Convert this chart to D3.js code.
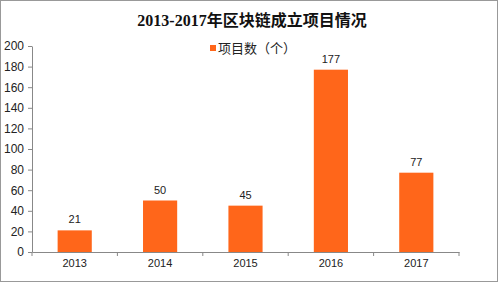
<!DOCTYPE html>
<html lang="zh">
<head>
<meta charset="UTF-8">
<script src="https://cdnjs.cloudflare.com/ajax/libs/d3/7.8.5/d3.min.js"></script>
<style>
  body { margin: 0; padding: 0; background: #fff; }
  svg { display: block; }
</style>
</head>
<body>
<div id="chart"></div>
<script>
// 数据
const years = ["2013", "2014", "2015", "2016", "2017"];
const projects = [21, 50, 45, 177, 77];
const yTicks = [0, 20, 40, 60, 80, 100, 120, 140, 160, 180, 200];

const width = 499, height = 283;
const margin = { left: 32, right: 40, top: 46, bottom: 31 };
const barColor = "#FF661A";
const sansFont = "Arial, 'Liberation Sans', 'Noto Sans CJK SC', sans-serif";
const titleFont = "'Liberation Serif', 'Noto Sans CJK SC', serif";

const svg = d3.select("#chart").append("svg")
    .attr("width", width)
    .attr("height", height);

// 外框
svg.append("rect")
    .attr("x", 0.5).attr("y", 0.5)
    .attr("width", width - 2).attr("height", height - 2)
    .attr("fill", "#fff")
    .attr("stroke", "#999");

const x = d3.scaleBand()
    .domain(years)
    .range([margin.left, width - margin.right])
    .paddingInner(0.6)
    .paddingOuter(0.3);

const y = d3.scaleLinear()
    .domain([0, 200])
    .range([height - margin.bottom, margin.top]);

// 标题
svg.append("text")
    .attr("x", 252).attr("y", 26)
    .attr("text-anchor", "middle")
    .style("font-family", titleFont)
    .style("font-weight", "bold")
    .style("font-size", "16px")
    .attr("fill", "#111")
    .text("2013-2017年区块链成立项目情况");

// 图例
svg.append("rect")
    .attr("x", 210).attr("y", 45)
    .attr("width", 6).attr("height", 6)
    .attr("fill", barColor);
svg.append("text")
    .attr("x", 218).attr("y", 53)
    .style("font-family", sansFont)
    .style("font-size", "13px")
    .attr("fill", "#222")
    .text("项目数（个）");

// Y 轴
const yAxis = svg.append("g")
    .attr("transform", `translate(${margin.left},0)`)
    .call(d3.axisLeft(y).tickValues(yTicks).tickSize(4).tickSizeOuter(0));
yAxis.select(".domain").attr("stroke", "#888");
yAxis.selectAll(".tick line").attr("stroke", "#888");
yAxis.selectAll(".tick text")
    .attr("x", -8)
    .style("font-family", sansFont)
    .style("font-size", "12px")
    .attr("fill", "#222");

// X 轴
const x0 = y(0);
const xAxis = svg.append("g")
    .attr("transform", `translate(0,${x0})`)
    .call(d3.axisBottom(x).tickSize(0).tickSizeOuter(0));
xAxis.select(".domain").attr("stroke", "#888");
xAxis.selectAll(".tick text")
    .attr("dy", "0.71em")
    .attr("y", 7)
    .style("font-family", sansFont)
    .style("font-size", "11px")
    .attr("fill", "#222");

// 分类刻度线（在类别边界处）
const bounds = d3.range(years.length + 1).map(i => margin.left + i * (width - margin.left - margin.right) / years.length);
svg.append("g").selectAll("line")
    .data(bounds)
    .enter().append("line")
    .attr("x1", d => d).attr("x2", d => d)
    .attr("y1", x0).attr("y2", x0 + 4)
    .attr("stroke", "#888");

// 柱
svg.append("g").selectAll("rect")
    .data(projects)
    .enter().append("rect")
    .attr("x", (d, i) => x(years[i]))
    .attr("y", d => y(d))
    .attr("width", x.bandwidth())
    .attr("height", d => y(0) - y(d))
    .attr("fill", barColor);

// 数值标签
svg.append("g").selectAll("text")
    .data(projects)
    .enter().append("text")
    .attr("x", (d, i) => x(years[i]) + x.bandwidth() / 2)
    .attr("y", d => y(d) - 7)
    .attr("text-anchor", "middle")
    .style("font-family", sansFont)
    .style("font-size", "11px")
    .attr("fill", "#222")
    .text(d => d);
</script>
</body>
</html>
